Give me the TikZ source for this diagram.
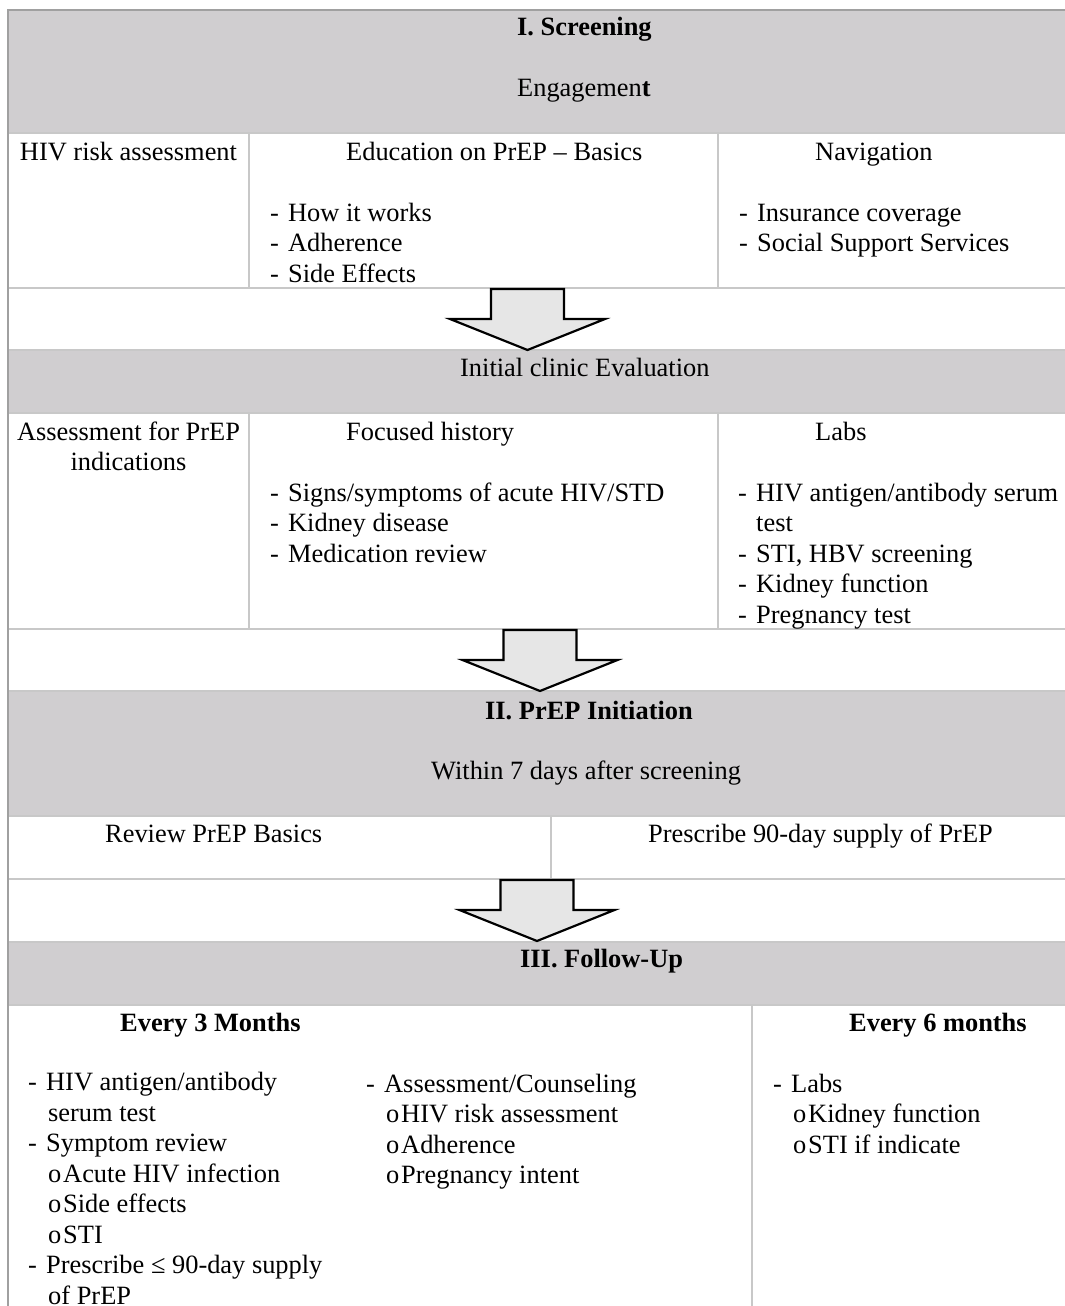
\documentclass[tikz,border=0pt]{standalone}
\usepackage{fontspec}
\setmainfont{Liberation Serif}
\definecolor{bandgray}{RGB}{208,206,208}
\definecolor{rulegray}{RGB}{200,200,200}
\definecolor{edgegray}{RGB}{160,160,160}
\definecolor{arrowfill}{RGB}{230,230,230}
\newcommand{\itm}{\makebox[18pt][l]{-}}
\newcommand{\subitm}{\makebox[15pt][l]{o}}
\newcommand{\cont}{\hspace*{20pt}}

\begin{document}
\begin{tikzpicture}
    [x=1pt, y=-1pt,
    rule/.style={draw=rulegray, line width=2pt},
    txt/.style={inner sep=0pt, font=\fontsize{26.4}{30.5}\selectfont},
    lst/.style={txt, anchor=base west, align=left},
    hdr/.style={lst, font=\fontsize{26.4}{30.5}\selectfont\bfseries},
    blk/.style={draw=black, line width=2.2pt, fill=arrowfill, line join=miter}]
    \useasboundingbox (0,0) rectangle (1065,1306);
    \clip (0,0) rectangle (1065,1306);
    % grey bands
    \foreach \ta/\tb in {10/133, 350/413, 691/816, 942/1005}
        \fill[bandgray] (8,\ta) rectangle (1070,\tb);
    % table rules
    \foreach \ry in {133,288,350,413,629,691,816,879,942,1005}
        \draw[rule] (8,\ry) -- (1070,\ry);
    \draw[rule] (249,133) -- (249,288);
    \draw[rule] (718,133) -- (718,288);
    \draw[rule] (249,413) -- (249,629);
    \draw[rule] (718,413) -- (718,629);
    \draw[rule] (551,816) -- (551,879);
    \draw[rule] (752,1005) -- (752,1310);
    \draw[draw=edgegray, line width=2pt] (8,1310) -- (8,10) -- (1070,10);
    % block arrows
    \foreach \ax/\ay in {527.5/289, 540/630, 537/880}
        \draw[blk] (\ax-36.5,\ay) -- (\ax+36.5,\ay) -- (\ax+36.5,\ay+30) -- (\ax+77.5,\ay+30)
            -- (\ax,\ay+61) -- (\ax-77.5,\ay+30) -- (\ax-36.5,\ay+30) -- cycle;
    % I. screening (multi-line nodes sit on their last baseline)
    \node[hdr] (screen) at (517,36) {I. Screening};
    \node[lst] (engage) at (517,96) {Engagemen\textbf{t}};
    \node[txt, anchor=base, align=center] (risk) at (128.5,160) {HIV risk assessment};
    \node[lst] (edu) at (346,160) {Education on PrEP – Basics};
    \node[lst] (eduitems) at (270,282) {\itm How it works\\ \itm Adherence\\ \itm Side Effects};
    \node[lst] (nav) at (815,160) {Navigation};
    \node[lst] (navitems) at (739,251.5) {\itm Insurance coverage\\ \itm Social Support Services};
    % initial evaluation
    \node[lst] (initial) at (460,376) {Initial clinic Evaluation};
    \node[txt, anchor=base, align=center] (indic) at (128.5,470.5) {Assessment for PrEP\\ indications};
    \node[lst] (hist) at (346,440) {Focused history};
    \node[lst] (histitems) at (270,562) {\itm Signs/symptoms of acute HIV/STD\\ \itm Kidney disease\\ \itm Medication review};
    \node[lst] (labs) at (815,440) {Labs};
    \node[lst] (labitems) at (738,623) {\itm HIV antigen/antibody serum\\ \hspace*{18pt}test\\ \itm STI, HBV screening\\ \itm Kidney function\\ \itm Pregnancy test};
    % II. initiation
    \node[hdr] (start) at (485,719) {II. PrEP Initiation};
    \node[lst] (within) at (431,779) {Within 7 days after screening};
    \node[lst] (review) at (105,842) {Review PrEP Basics};
    \node[lst] (rx) at (648,842) {Prescribe 90-day supply of PrEP};
    % III. follow-up
    \node[hdr] (follow) at (520,967) {III. Follow-Up};
    \node[hdr] (three) at (120,1031) {Every 3 Months};
    \node[lst] (threeitems) at (28,1304) {\itm HIV antigen/antibody\\ \cont serum test\\ \itm Symptom review\\
        \cont\subitm Acute HIV infection\\ \cont\subitm Side effects\\ \cont\subitm STI\\
        \itm Prescribe ≤ 90-day supply\\ \cont of PrEP};
    \node[lst] (counsel) at (366,1183.5) {\itm Assessment/Counseling\\ \cont\subitm HIV risk assessment\\
        \cont\subitm Adherence\\ \cont\subitm Pregnancy intent};
    \node[hdr] (six) at (849,1031) {Every 6 months};
    \node[lst] (sixitems) at (773,1153) {\itm Labs\\ \cont\subitm Kidney function\\ \cont\subitm STI if indicate};
\end{tikzpicture}
\end{document}
